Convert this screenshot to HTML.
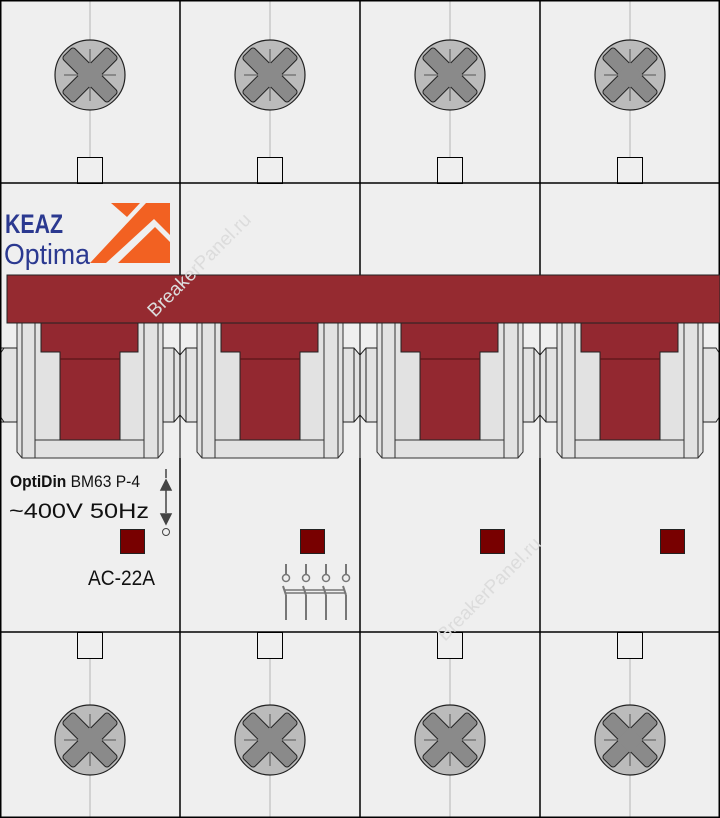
<!DOCTYPE html>
<html><head><meta charset="utf-8"><style>
html,body{margin:0;padding:0;background:#efefef}
svg{display:block}
text{font-family:"Liberation Sans","DejaVu Sans",sans-serif}
</style></head><body>
<svg width="720" height="818" viewBox="0 0 720 818" xmlns="http://www.w3.org/2000/svg">
<defs>
<g id="screw">
  <circle r="35" fill="#bbb" stroke="#222" stroke-width="1.2"/>
  <g stroke="#777" stroke-width="1.5"><line x1="-26" y1="0" x2="26" y2="0"/><line x1="0" y1="-26" x2="0" y2="26"/></g>
  <g fill="#8a8a8a" stroke="#222" stroke-width="1">
    <rect x="-32" y="-8" width="64" height="16" rx="3" transform="rotate(45)"/>
    <rect x="-32" y="-8" width="64" height="16" rx="3" transform="rotate(-45)"/>
  </g>
  <rect x="-9" y="-9" width="18" height="18" fill="#8a8a8a" transform="rotate(45)"/>
</g>
<g id="mod">
  <line x1="90" y1="0" x2="90" y2="157" stroke="#d2d2d2" stroke-width="2"/>
  <line x1="90" y1="658" x2="90" y2="818" stroke="#d2d2d2" stroke-width="2"/>
  <use href="#screw" x="90" y="75"/>
  <use href="#screw" x="90" y="740"/>
  <rect x="77.5" y="157.5" width="25" height="26" fill="#efefef" stroke="#000"/>
  <rect x="77.5" y="632.5" width="25" height="26" fill="#efefef" stroke="#000"/>
  <polygon points="17,323 35,323 35,458 22,458 17,452" fill="#e2e2e2" stroke="#333" stroke-width="1"/>
  <line x1="22" y1="323" x2="22" y2="458" stroke="#333"/>
  <polygon points="144,323 163,323 163,452 158,458 144,458" fill="#e2e2e2" stroke="#333" stroke-width="1"/>
  <line x1="158" y1="323" x2="158" y2="458" stroke="#333"/>
  <rect x="35" y="440" width="109" height="18" fill="#e2e2e2" stroke="#333"/>
  <rect x="35" y="323" width="25" height="117" fill="#e2e2e2" stroke="#333"/>
  <rect x="120" y="323" width="24" height="117" fill="#e2e2e2" stroke="#333"/>
  <polygon points="41,323 138,323 138,352 120,352 120,440 60,440 60,352 41,352" fill="#932830" stroke="#222"/>
  <line x1="60" y1="359" x2="120" y2="359" stroke="#5a1418" stroke-width="1.2"/>
</g>
<g id="bump">
  <polygon points="-17,348 -6,348 0,355 6,348 17,348 17,422 6,422 0,415 -6,422 -17,422" fill="#e2e2e2" stroke="#222"/>
  <line x1="-6" y1="348" x2="-6" y2="422" stroke="#222"/>
  <line x1="6" y1="348" x2="6" y2="422" stroke="#222"/>
</g>
</defs>
<rect width="720" height="818" fill="#efefef"/>
<use href="#mod" x="0"/>
<use href="#mod" x="180"/>
<use href="#mod" x="360"/>
<use href="#mod" x="540"/>
<use href="#bump" x="180"/>
<use href="#bump" x="360"/>
<use href="#bump" x="540"/>
<polygon points="0,348 6,348 6,422 0,422" fill="#e2e2e2" stroke="#222"/>
<polygon points="4,348 17,348 17,422 4,422 0,416 0,354" fill="#e2e2e2" stroke="#222"/>
<polygon points="716,348 703,348 703,422 716,422 720,416 720,354" fill="#e2e2e2" stroke="#222"/>
<g stroke="#000" stroke-width="1.5" fill="none">
  <rect x="0.75" y="0.75" width="718.5" height="816.5"/>
  <line x1="0" y1="183" x2="720" y2="183"/>
  <line x1="0" y1="632" x2="720" y2="632"/>
  <line x1="180" y1="0" x2="180" y2="275"/><line x1="360" y1="0" x2="360" y2="275"/><line x1="540" y1="0" x2="540" y2="275"/>
  <line x1="180" y1="458" x2="180" y2="818"/><line x1="360" y1="458" x2="360" y2="818"/><line x1="540" y1="458" x2="540" y2="818"/>
</g>
<g stroke="#000" stroke-width="1">
  <line x1="180" y1="323" x2="180" y2="458"/><line x1="360" y1="323" x2="360" y2="458"/><line x1="540" y1="323" x2="540" y2="458"/>
</g>
<rect x="7" y="275" width="713" height="48" fill="#952a30" stroke="#222"/>
<text x="5" y="233" font-size="27" font-weight="bold" fill="#2b3990" textLength="58" lengthAdjust="spacingAndGlyphs">KEAZ</text>
<text x="4" y="264" font-size="29" fill="#2b3990" textLength="86" lengthAdjust="spacingAndGlyphs">Optima</text>
<g fill="#f26122">
  <polygon points="111,203 140,203 127,217"/>
  <polygon points="146,203 170,203 170,235 154,219 106,263 90,263"/>
  <polygon points="118,263 155,227 170,242 170,263"/>
</g>
<text x="0" y="0" font-size="19" fill="#dcdcdc" transform="translate(155,318) rotate(-45)">BreakerPanel.ru</text>
<text x="0" y="0" font-size="19" fill="#dcdcdc" transform="translate(445,642) rotate(-45)">BreakerPanel.ru</text>
<text x="10" y="487" font-size="17" fill="#111" textLength="130" lengthAdjust="spacingAndGlyphs"><tspan font-weight="bold">OptiDin</tspan> BM63 P-4</text>
<text x="9" y="518" font-size="21" fill="#111" textLength="140" lengthAdjust="spacingAndGlyphs">~400V 50Hz</text>
<text x="88" y="585" font-size="21" fill="#111" textLength="67" lengthAdjust="spacingAndGlyphs">AC-22A</text>
<g stroke="#444" stroke-width="1.5" fill="#444">
  <line x1="166" y1="469" x2="166" y2="478"/>
  <line x1="166" y1="485" x2="166" y2="513"/>
  <polygon points="161,490 171,490 166,480"/>
  <polygon points="161,514 171,514 166,524"/>
</g>
<circle cx="166" cy="532" r="3.5" fill="none" stroke="#444"/>
<g fill="#780000" stroke="#222">
  <rect x="120.5" y="529.5" width="24" height="24"/>
  <rect x="300.5" y="529.5" width="24" height="24"/>
  <rect x="480.5" y="529.5" width="24" height="24"/>
  <rect x="660.5" y="529.5" width="24" height="24"/>
</g>
<g stroke="#777" stroke-width="2" fill="none">
  <g id="pole">
    <line x1="286" y1="564" x2="286" y2="574"/>
    <circle cx="286" cy="578" r="3.5" stroke-width="1.5"/>
    <line x1="283" y1="586" x2="286" y2="595"/>
    <line x1="286" y1="595" x2="286" y2="620"/>
  </g>
  <use href="#pole" x="20"/><use href="#pole" x="40"/><use href="#pole" x="60"/>
  <line x1="285" y1="590" x2="345" y2="590" stroke-width="1.5"/>
  <line x1="286" y1="593" x2="346" y2="593" stroke-width="1.5"/>
</g>
</svg>
</body></html>
